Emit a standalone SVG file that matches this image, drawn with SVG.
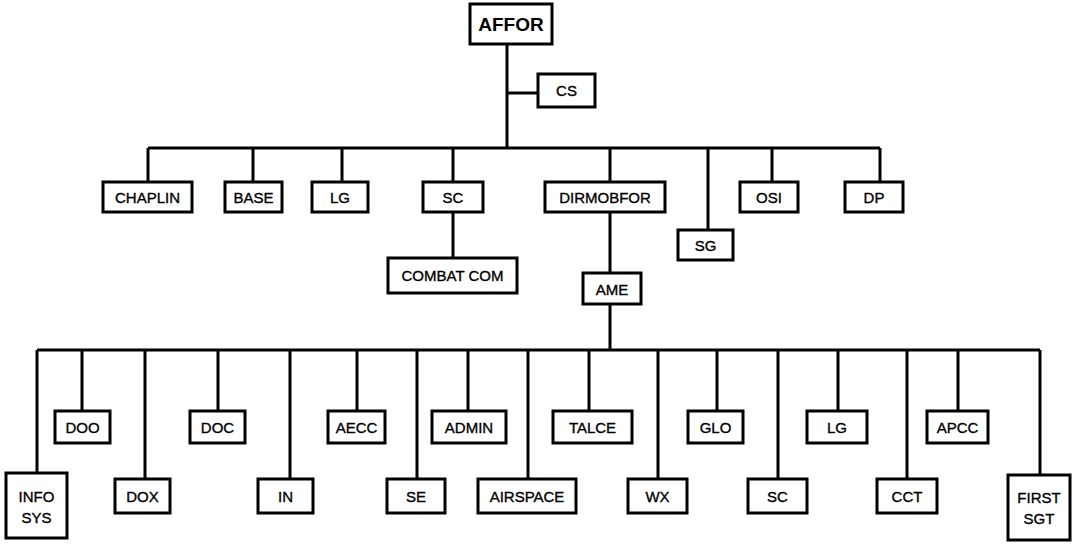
<svg xmlns="http://www.w3.org/2000/svg" width="1075" height="545" viewBox="0 0 1075 545">
<style>
.b{fill:#fff;stroke:#000;stroke-width:3}
.t{font-family:"Liberation Sans",Arial,sans-serif;font-size:15px;text-anchor:middle;fill:#000;stroke:#000;stroke-width:0.35}
.tb{font-family:"Liberation Sans",Arial,sans-serif;font-size:19px;font-weight:bold;text-anchor:middle;fill:#000}
.c{fill:none;stroke:#000;stroke-width:3}
</style>
<rect width="1075" height="545" fill="#fff"/>
<g id="connectors" class="c">
<path d="M507 44V148M507 93H538M148 148H880"/>
<path d="M148 148V182M253 148V182M342 148V182M453 148V182M610 148V182M708 148V230M772 148V182M880 148V182"/>
<path d="M453 212V258M610 212V273M610 304V350"/>
<path d="M37 350H1040"/>
<path d="M37 350V473M82 350V411M145 350V479M218 350V411M290 350V479M357 350V411M417 350V479M468 350V411M528 350V479M589 350V411M658 350V479M717 350V411M778 350V479M838 350V411M907 350V479M958 350V411M1040 350V475"/>
</g>
<g id="affor"><rect class="b" x="470" y="4" width="82" height="40"/><text class="tb" x="511" y="31">AFFOR</text></g>
<g id="cs"><rect class="b" x="538" y="74" width="57" height="33"/><text class="t" x="566.5" y="96">CS</text></g>
<g id="chaplin"><rect class="b" x="103" y="182" width="89" height="30"/><text class="t" x="147.5" y="203">CHAPLIN</text></g>
<g id="base"><rect class="b" x="225" y="182" width="57" height="30"/><text class="t" x="253.5" y="203">BASE</text></g>
<g id="lg1"><rect class="b" x="312" y="182" width="56" height="30"/><text class="t" x="340" y="203">LG</text></g>
<g id="sc1"><rect class="b" x="423" y="182" width="60" height="30"/><text class="t" x="453" y="203">SC</text></g>
<g id="dirmobfor"><rect class="b" x="545" y="182" width="120" height="30"/><text class="t" x="605" y="203">DIRMOBFOR</text></g>
<g id="sg"><rect class="b" x="678" y="230" width="55" height="30"/><text class="t" x="705.5" y="251">SG</text></g>
<g id="osi"><rect class="b" x="740" y="182" width="58" height="30"/><text class="t" x="769" y="203">OSI</text></g>
<g id="dp"><rect class="b" x="845" y="182" width="58" height="30"/><text class="t" x="874" y="203">DP</text></g>
<g id="combatcom"><rect class="b" x="388" y="258" width="129" height="35"/><text class="t" x="452.5" y="281">COMBAT COM</text></g>
<g id="ame"><rect class="b" x="583" y="273" width="58" height="31"/><text class="t" x="612" y="295">AME</text></g>
<g id="doo"><rect class="b" x="55" y="411" width="55" height="32"/><text class="t" x="82.5" y="433">DOO</text></g>
<g id="doc"><rect class="b" x="190" y="411" width="55" height="32"/><text class="t" x="217.5" y="433">DOC</text></g>
<g id="aecc"><rect class="b" x="328" y="411" width="57" height="32"/><text class="t" x="356.5" y="433">AECC</text></g>
<g id="admin"><rect class="b" x="432" y="411" width="74" height="32"/><text class="t" x="469" y="433">ADMIN</text></g>
<g id="talce"><rect class="b" x="553" y="411" width="79" height="32"/><text class="t" x="592.5" y="433">TALCE</text></g>
<g id="glo"><rect class="b" x="688" y="411" width="55" height="32"/><text class="t" x="715.5" y="433">GLO</text></g>
<g id="lg2"><rect class="b" x="807" y="411" width="60" height="32"/><text class="t" x="837" y="433">LG</text></g>
<g id="apcc"><rect class="b" x="927" y="411" width="61" height="32"/><text class="t" x="957.5" y="433">APCC</text></g>
<g id="infosys"><rect class="b" x="6" y="473" width="61" height="65"/><text class="t" x="36.5" y="502">INFO</text><text class="t" x="36.5" y="523">SYS</text></g>
<g id="dox"><rect class="b" x="115" y="479" width="55" height="34"/><text class="t" x="142.5" y="502">DOX</text></g>
<g id="in"><rect class="b" x="258" y="479" width="55" height="34"/><text class="t" x="285.5" y="502">IN</text></g>
<g id="se"><rect class="b" x="387" y="479" width="58" height="34"/><text class="t" x="416" y="502">SE</text></g>
<g id="airspace"><rect class="b" x="478" y="479" width="98" height="34"/><text class="t" x="527" y="502">AIRSPACE</text></g>
<g id="wx"><rect class="b" x="628" y="479" width="59" height="34"/><text class="t" x="657.5" y="502">WX</text></g>
<g id="sc2"><rect class="b" x="748" y="479" width="59" height="34"/><text class="t" x="777.5" y="502">SC</text></g>
<g id="cct"><rect class="b" x="877" y="479" width="60" height="34"/><text class="t" x="907" y="502">CCT</text></g>
<g id="firstsgt"><rect class="b" x="1008" y="475" width="62" height="65"/><text class="t" x="1039" y="503">FIRST</text><text class="t" x="1039" y="524">SGT</text></g>
</svg>
